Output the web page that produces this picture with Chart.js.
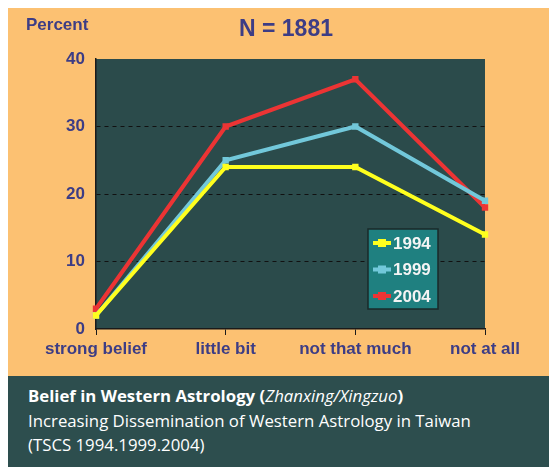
<!DOCTYPE html>
<html>
<head>
<meta charset="utf-8">
<script src="https://cdn.jsdelivr.net/npm/chart.js@4"></script>
<style>
  html, body { margin: 0; padding: 0; background: #fff; }
  #wrap { position: absolute; left: 8px; top: 8px; width: 541px; height: 368px; background: #fcc172; }
  #footer {
    position: absolute; left: 8px; top: 376px; width: 541px; height: 91px;
    background: #2d4e4e; color: #fff; font-family: "Open Sans", sans-serif; font-size: 16.8px;
    box-sizing: border-box; padding: 8px 0 0 20px; line-height: 24.5px;
  }
  #footer b { font-weight: 700; }
</style>
</head>
<body>
<div id="wrap"><canvas id="chart-main" width="541" height="368"></canvas></div>
<div id="footer">
  <div><b>Belief in Western Astrology (</b><i>Zhanxing/Xingzuo</i><b>)</b></div>
  <div>Increasing Dissemination of Western Astrology in Taiwan</div>
  <div>(TSCS 1994.1999.2004)</div>
</div>
<script>
const categories = ['strong belief', 'little bit', 'not that much', 'not at all'];
const years = ['1994', '1999', '2004'];
const values1994 = [2, 24, 24, 14];
const values1999 = [2, 25, 30, 19];
const values2004 = [3, 30, 37, 18];
const yTicks = [0, 10, 20, 30, 40];

const navy = '#3d3d85';
const lineColors = ['#ffff1e', '#72c8da', '#ec3434'];
const labelFont = { family: 'Arial, "Liberation Sans", sans-serif', size: 17, weight: 'bold' };

// plot background + texts + boxed legend
const decor = {
  id: 'decor',
  beforeDraw: (chart) => {
    const { ctx, chartArea: a } = chart;
    ctx.save();
    ctx.fillStyle = '#2b4b4b';
    ctx.fillRect(a.left, a.top, a.right - a.left, a.bottom - a.top);
    ctx.restore();
  },
  afterDraw: (chart) => {
    const { ctx, chartArea: a } = chart;
    ctx.save();
    ctx.fillStyle = navy;
    ctx.textBaseline = 'middle';
    ctx.font = 'bold 17px Arial, "Liberation Sans", sans-serif';
    ctx.textAlign = 'left';
    ctx.fillText('Percent', 18, 17);
    ctx.font = 'bold 23px Arial, "Liberation Sans", sans-serif';
    ctx.textAlign = 'center';
    ctx.fillText('N = 1881', 278, 22);

    // legend box
    const bx = a.right - 117, by = a.top + 170, bw = 70, bh = 80;
    ctx.fillStyle = '#1f8080';
    ctx.fillRect(bx, by, bw, bh);
    ctx.strokeStyle = '#1a2a2a';
    ctx.lineWidth = 1.5;
    ctx.strokeRect(bx, by, bw, bh);
    ctx.font = 'bold 17px Arial, "Liberation Sans", sans-serif';
    ctx.textAlign = 'left';
    chart.data.datasets.forEach((ds, i) => {
      const y = by + 14 + i * 26.5;
      ctx.strokeStyle = ds.borderColor;
      ctx.lineWidth = 4;
      ctx.beginPath();
      ctx.moveTo(bx + 5, y);
      ctx.lineTo(bx + 23, y);
      ctx.stroke();
      ctx.fillStyle = ds.borderColor;
      ctx.fillRect(bx + 10, y - 4, 8, 8);
      ctx.fillStyle = '#f4f4f4';
      ctx.fillText(ds.label, bx + 25, y + 1);
    });
    ctx.restore();
  }
};

new Chart(document.getElementById('chart-main'), {
  type: 'line',
  data: {
    labels: categories,
    datasets: [values1994, values1999, values2004].map((vals, i) => ({
      label: years[i],
      data: vals,
      borderColor: lineColors[i],
      backgroundColor: lineColors[i],
      borderWidth: 4,
      tension: 0,
      pointStyle: 'rect',
      pointRadius: 4.5,
      pointBorderWidth: 0
    }))
  },
  options: {
    responsive: false,
    animation: false,
    layout: { padding: { top: 51, left: 0, right: 64, bottom: 0 } },
    plugins: { legend: { display: false }, title: { display: false }, tooltip: { enabled: false } },
    scales: {
      x: {
        offset: false,
        grid: { drawOnChartArea: false, drawTicks: true, tickLength: 6, tickColor: '#1a1a1a' },
        border: { color: '#1a1a1a', width: 1.5 },
        ticks: { color: navy, font: labelFont, padding: 4, maxRotation: 0, autoSkip: false },
        afterFit: (s) => { s.height = 47; }
      },
      y: {
        min: 0, max: 40,
        afterBuildTicks: (s) => { s.ticks = yTicks.map(v => ({ value: v })); },
        grid: {
          drawTicks: false,
          color: (c) => (c.tick && (c.tick.value === 0 || c.tick.value === 40)) ? 'rgba(0,0,0,0)' : '#111',
          lineWidth: 1
        },
        border: { color: '#1a1a1a', width: 1.5, dash: [4, 4] },
        ticks: { color: navy, font: labelFont, padding: 11 },
        afterFit: (s) => { s.width = 88; }
      }
    }
  },
  plugins: [decor]
});
</script>
</body>
</html>
